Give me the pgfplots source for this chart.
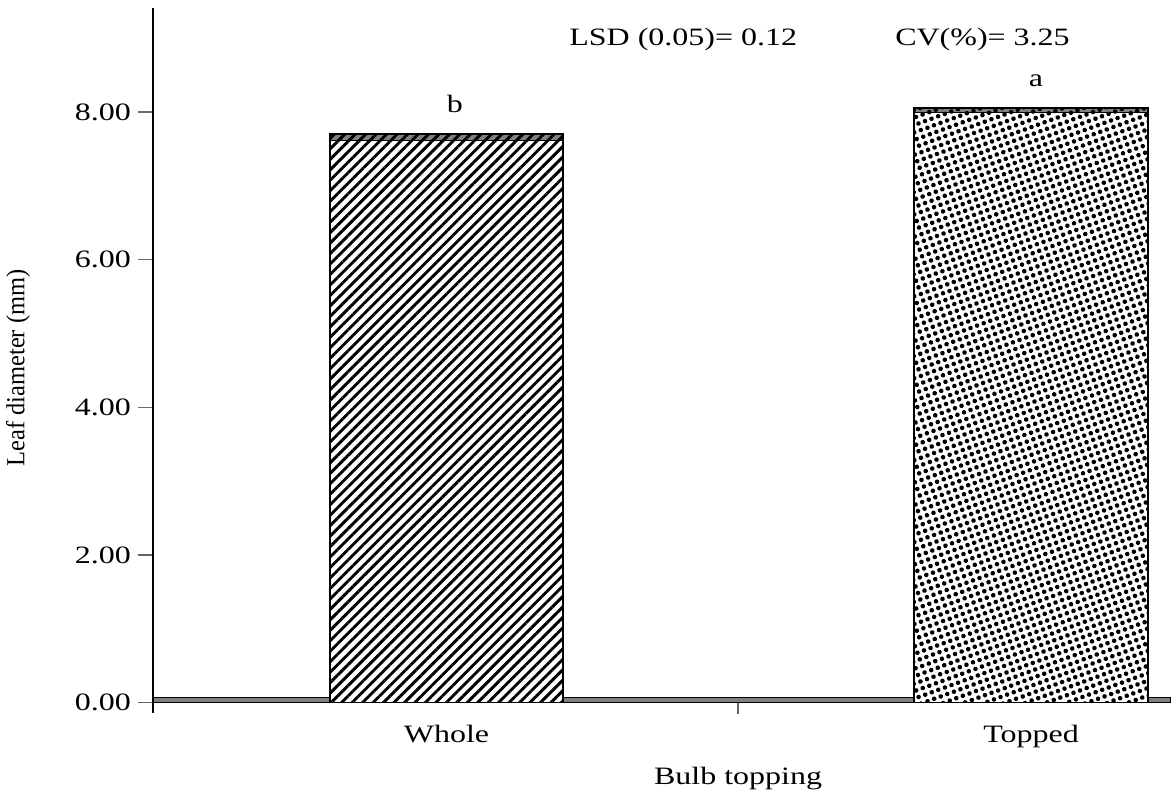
\documentclass[border=0pt]{standalone}
\usepackage{fontspec}
\setmainfont{Liberation Serif}[FakeStretch=1.28]
\newfontfamily\ylabfont{Liberation Serif}[FakeStretch=0.94]
\usepackage{pgfplots}
\pgfplotsset{compat=1.18}
\usetikzlibrary{patterns.meta}

\begin{document}
\begin{tikzpicture}[font=\fontsize{12.5}{15}\selectfont]
\begin{axis}[
  name=ax,
  width=509pt, height=347.35pt, scale only axis,
  xmin=0, xmax=1.74, ymin=0, ymax=9.41,
  clip mode=individual,
  axis x line*=bottom, axis y line*=left,
  x axis line style={draw=none},
  y axis line style={line width=0.6pt},
  xtick={0.5017,1.5009}, xticklabels={Whole,Topped},
  x tick style={draw=none},
  ytick={0,2,4,6,8},
  y tick style={black!60, line width=0.6pt},
  tick align=outside, major tick length=7.5pt,
  /pgf/number format/assume math mode=true,
  yticklabel style={/pgf/number format/fixed, /pgf/number format/fixed zerofill, /pgf/number format/precision=2},
  xlabel={Bulb topping},
  xlabel style={at={(rel axis cs:0.5747,0)}, anchor=base, yshift=-41pt},
  ylabel={\ylabfont\fontsize{13}{15}\selectfont Leaf diameter (mm)},
  ylabel style={at={(rel axis cs:-0.1326,0.482)}, anchor=center},
]
% base band
\addplot[fill=gray, draw=black, line width=0.6pt] coordinates {(0,0.07) (1.74,0.07)} \closedcycle;
% Whole
\addplot[ybar, bar shift=0pt, bar width=0.398, fill=gray, draw=none] coordinates {(0.5017,7.70)};
\addplot[ybar, bar shift=0pt, bar width=0.398, fill=white, draw=black, line width=0.6pt] coordinates {(0.5017,7.61)};
\addplot[ybar, bar shift=0pt, bar width=0.398, draw=black, line width=1pt,
  pattern={Lines[angle=45,distance=3.7pt,line width=1.45pt]}] coordinates {(0.5017,7.70)};
% Topped
\addplot[ybar, bar shift=0pt, bar width=0.4, fill=gray, draw=none] coordinates {(1.5009,8.06)};
\addplot[ybar, bar shift=0pt, bar width=0.4, fill=white, draw=black, line width=0.6pt] coordinates {(1.5009,7.99)};
\addplot[ybar, bar shift=0pt, bar width=0.4, draw=black, line width=1pt,
  pattern={Dots[distance=3.5pt,radius=1.15pt,angle=20]}] coordinates {(1.5009,8.06)};
% ticks on x axis
\draw[black!60, line width=0.6pt] (axis cs:1,0) -- ++(0,-5.5pt);
\draw[line width=0.6pt] (axis cs:0,0) -- ++(0,-5.3pt);
% annotations
\node[anchor=base west, inner sep=0pt] at (axis cs:0.711,8.90) {LSD (0.05)= 0.12};
\node[anchor=base west, inner sep=0pt] at (axis cs:1.268,8.90) {CV(\%)= 3.25};
\node[anchor=base, inner sep=0pt] at (axis cs:0.516,7.99) {b};
\node[anchor=base, inner sep=0pt] at (axis cs:1.509,8.34) {a};
\end{axis}
\pgfresetboundingbox
\useasboundingbox ([xshift=-76.5pt,yshift=-45.15pt]ax.south west) rectangle ([yshift=4pt]ax.north east);
\end{tikzpicture}
\end{document}
